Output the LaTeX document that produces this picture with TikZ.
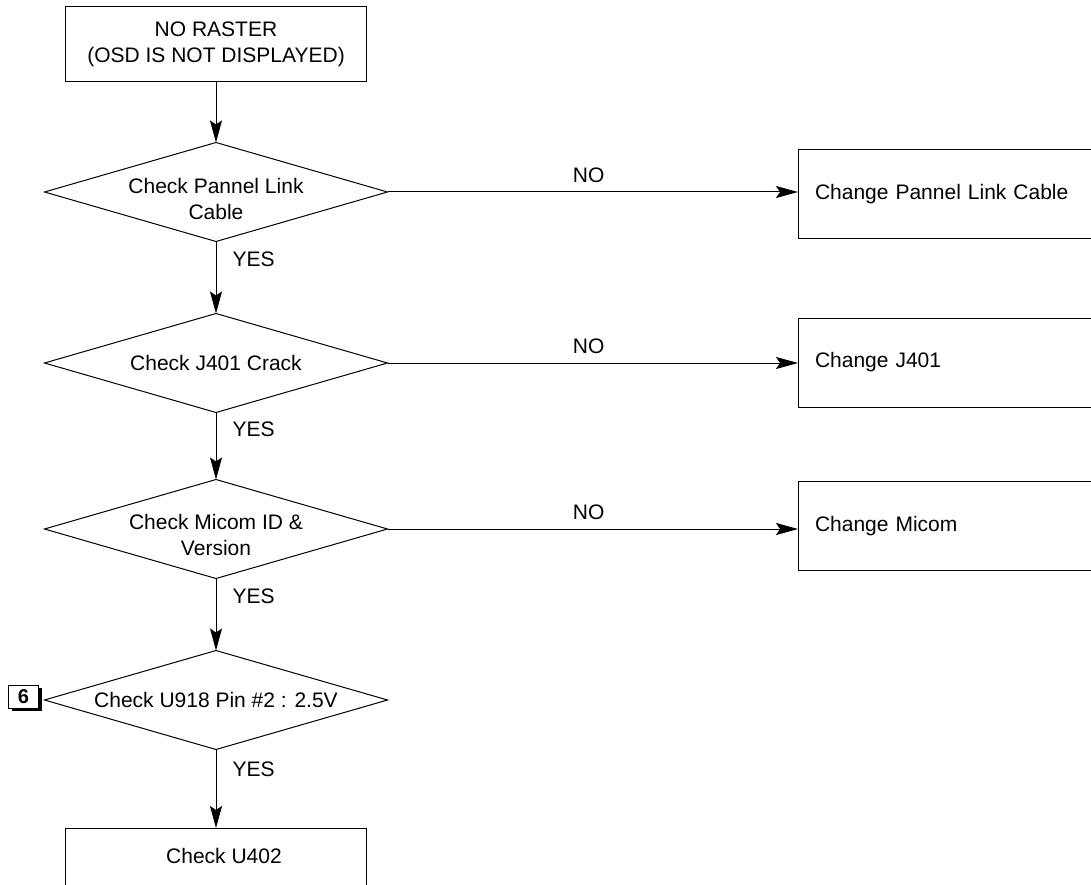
\documentclass[tikz,border=0pt]{standalone}
\usepackage{fontspec}
\setmainfont{Liberation Sans}
\usetikzlibrary{shapes.geometric,arrows.meta,shadows}
\begin{document}
\begin{tikzpicture}[x=1pt,y=-1pt,
  font=\fontsize{21}{25.5}\selectfont,
  line width=1pt,
  box/.style={draw, minimum width=301pt, inner sep=0pt, outer sep=0pt, align=center},
  decision/.style={draw, diamond, minimum width=343pt, minimum height=99pt, inner sep=0pt, outer sep=0pt},
  dtext/.style={align=center, inner sep=0pt},
  fixbox/.style={draw, minimum height=89pt, text width=268pt, inner xsep=17pt, inner ysep=0pt, outer sep=0pt, align=left},
  arr/.style={-{Stealth[length=22pt,width=12pt,inset=4pt]}},
  yes/.style={anchor=west, inner sep=0pt, xshift=16pt, pos=0.25},
  no/.style={anchor=south, inner sep=0pt, yshift=8.5pt, pos=0.49},
  marker/.style={draw, fill=white, minimum width=30pt, minimum height=23pt, inner sep=0pt,
    font=\fontsize{20}{20}\selectfont\bfseries,
    drop shadow={shadow xshift=3pt, shadow yshift=-3pt, fill=black, opacity=1}}
]
\useasboundingbox (0,0) rectangle (1091,885);
\clip (0,0) rectangle (1091,885);

% start box
\node[box, minimum height=75pt] (start) at (216,44.5) {NO RASTER\\(OSD IS NOT DISPLAYED)};

% decisions
\node[decision] (d1) at (216,192) {};
\node[decision] (d2) at (216,363) {};
\node[decision] (d3) at (216,529) {};
\node[decision] (d4) at (216,700) {};
\node[dtext] (t1) at ([yshift=-7pt]d1.center) {Check Pannel Link\\Cable};
\node[dtext] (t2) at (d2.center) {Check J401 Crack};
\node[dtext] (t3) at ([yshift=-6pt]d3.center) {Check Micom ID \&\\Version};
\node[dtext] (t4) at (d4.center) {Check U918 Pin \#2 : 2.5V};

% reference marker
\node[marker] (m6) at (23.5,696.5) {6};

% repair actions (run past the right edge)
\node[fixbox] (r1) at (949,194.5) {Change Pannel Link Cable};
\node[fixbox] (r2) at (949,362.5) {Change J401};
\node[fixbox] (r3) at (949,526) {Change Micom};

% final step (runs past the bottom edge)
\node[box, minimum height=72pt] (u402) at (216,864) {};
\node[dtext] (t5) at (224,856) {Check U402};

% flow
\draw[arr] (start.south) -- (d1.north);
\draw[arr] (d1.south) -- node[yes]{YES} (d2.north);
\draw[arr] (d2.south) -- node[yes]{YES} (d3.north);
\draw[arr] (d3.south) -- node[yes]{YES} (d4.north);
\draw[arr] (d4.south) -- node[yes]{YES} (u402.north);

\draw[arr] (d1.east) -- node[no]{NO} (d1.east -| r1.west);
\draw[arr] (d2.east) -- node[no]{NO} (d2.east -| r2.west);
\draw[arr] (d3.east) -- node[no]{NO} (d3.east -| r3.west);
\end{tikzpicture}
\end{document}
